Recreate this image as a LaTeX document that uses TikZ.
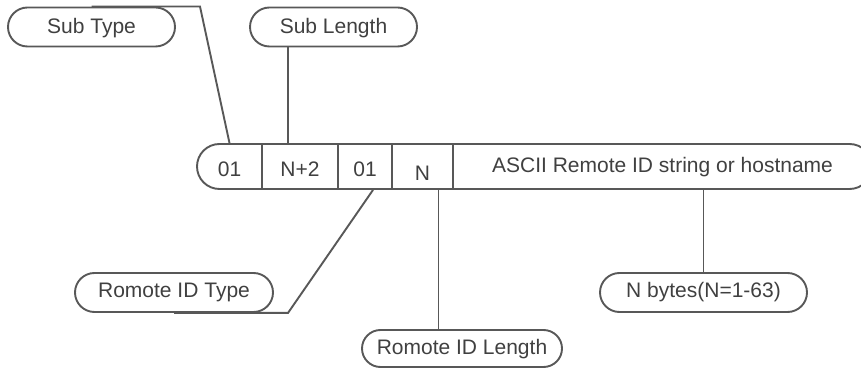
\documentclass[tikz,border=0pt]{standalone}
\usepackage{fontspec}
\setmainfont{Liberation Sans}
\usetikzlibrary{shapes.misc}
\definecolor{wiregray}{HTML}{585858}
\definecolor{labelgray}{HTML}{404040}

\begin{document}
\begin{tikzpicture}[x=0.5pt, y=-0.5pt, line width=0.95pt,
  every node/.style={font=\fontsize{10.5}{12}\selectfont, text=labelgray},
  tag/.style={draw=wiregray, rounded rectangle, minimum height=19.5pt, inner sep=0pt, text height=5.5pt, text depth=0pt},
  cell/.style={minimum height=22.5pt, inner sep=0pt, text height=10.5pt, text depth=0pt},
  wire/.style={draw=wiregray}]
  \useasboundingbox (0,0) rectangle (861,368);

  % label boxes
  \node[tag, minimum width=83.5pt, text height=7pt] (st) at (91.5,27) {Sub Type};
  \node[tag, minimum width=83.5pt, text height=7pt] (sl) at (333.5,27) {Sub Length};
  \node[tag, minimum width=99pt] (rt) at (174,292.5) {Romote ID Type};
  \node[tag, minimum width=100pt, minimum height=18.5pt, text height=6.5pt] (rl) at (462,348.5) {Romote ID Length};
  \node[tag, minimum width=103.5pt] (nb) at (703.5,292.5) {N bytes(N=1-63)};

  % the field bar
  \draw[wire, rounded corners=11.25pt] (197,144) rectangle (872,189);
  \foreach \x in {262,338,392,453}
    \draw[wire] (\x,144) -- (\x,189);
  \node[cell, minimum width=32.5pt] (f1) at (229.5,166.5) {01};
  \node[cell, minimum width=38pt] (f2) at (300,166.5) {N+2};
  \node[cell, minimum width=27pt] (f3) at (365,166.5) {01};
  \node[cell, minimum width=30.5pt, text height=14.5pt] (f4) at (422.5,166.5) {N};
  \node[cell, minimum width=209.5pt, text height=6.5pt] (f5) at (662.5,166.5) {ASCII Remote ID string or hostname};

  % connectors
  \draw[wire] (st.north) -- (200,0 |- st.north) -- (f1.north);
  \draw[wire] ([xshift=-6pt]f2.north) -- ([xshift=-6pt]f2.north |- sl.south);
  \draw[wire] (rt.south) -- (288,0 |- rt.south) -- ([xshift=4pt]f3.south);
  \draw[wire] ([xshift=8pt]f4.south) -- ([xshift=8pt]f4.south |- rl.north);
  \draw[wire] (nb.north) -- (nb.north |- f5.south);
\end{tikzpicture}
\end{document}
